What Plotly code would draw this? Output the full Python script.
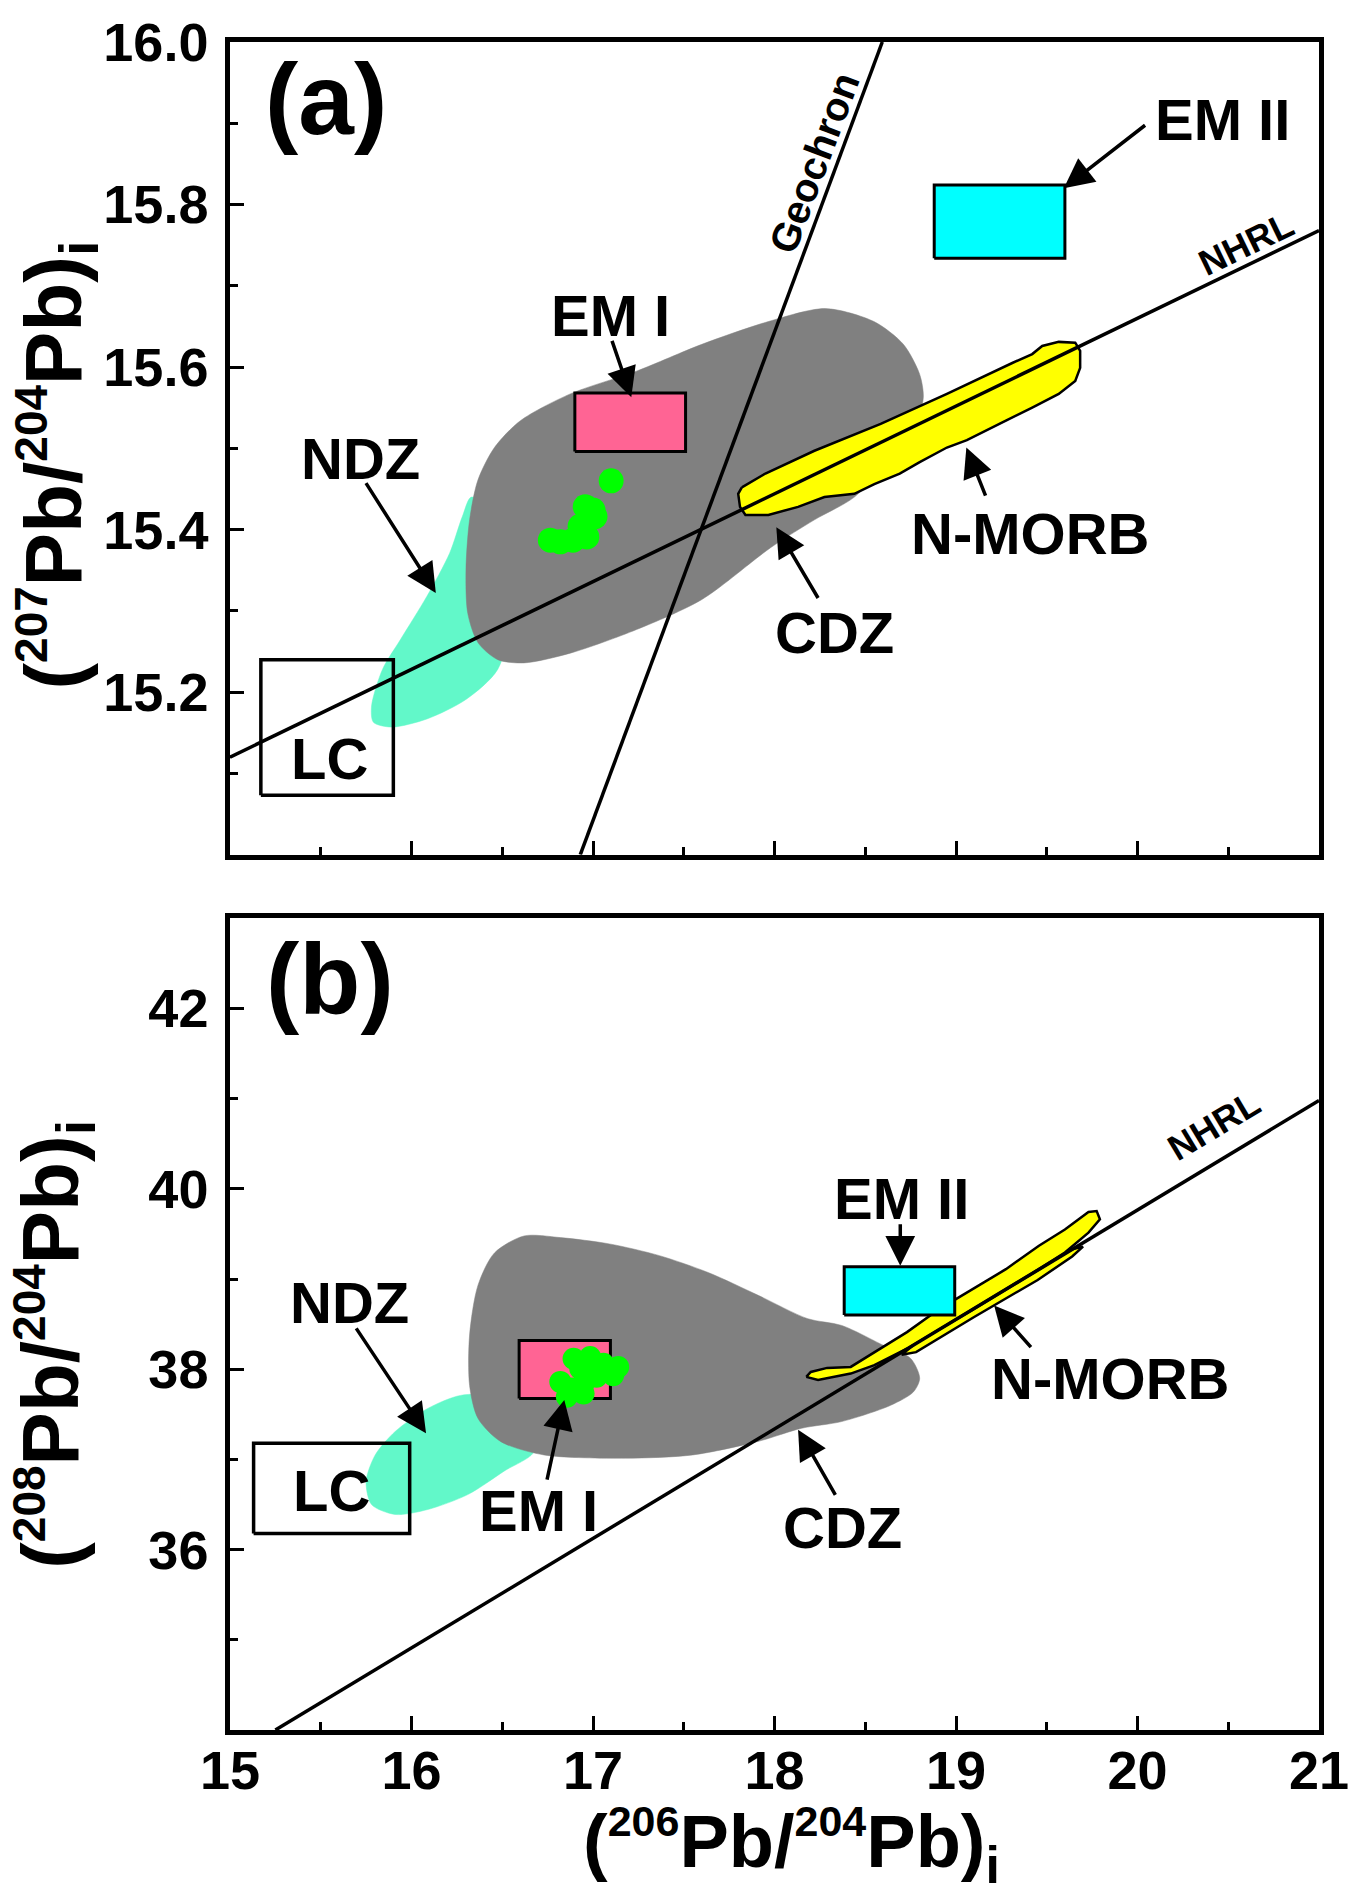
import plotly.graph_objects as go

# ---------------- axes ----------------
X_RANGE = [15, 21]
YA_RANGE = [15.0, 16.0]
YB_RANGE = [34, 43]
X_TICKS = [15, 16, 17, 18, 19, 20, 21]
X_MINOR = [15.5, 16.5, 17.5, 18.5, 19.5, 20.5]
YA_TICKS = [15.2, 15.4, 15.6, 15.8, 16.0]
YA_TICKTEXT = ["15.2", "15.4", "15.6", "15.8", "16.0"]
YA_MINOR = [15.1, 15.3, 15.5, 15.7, 15.9]
YB_TICKS = [36, 38, 40, 42]
YB_MINOR = [35, 37, 39, 41]

# ---------------- panel (a) ----------------
CDZ_A_X = [16.30, 16.32, 16.366, 16.457, 16.60, 16.875, 17.24, 17.60, 17.966, 18.28, 18.548, 18.71, 18.80,
           18.82, 18.78, 18.65, 18.44, 18.22, 17.98, 17.60, 17.24, 16.875, 16.62, 16.475, 16.366, 16.31]
CDZ_A_Y = [15.350, 15.412, 15.461, 15.501, 15.534, 15.567, 15.595, 15.628, 15.656, 15.672, 15.656, 15.628, 15.591,
           15.563, 15.530, 15.490, 15.440, 15.412, 15.378, 15.314, 15.277, 15.248, 15.236, 15.240, 15.261, 15.297]

NDZ_A_X = [16.33, 16.28, 16.21, 16.085, 15.94, 15.84, 15.78, 15.79, 15.89, 16.085, 16.30, 16.475, 16.55, 16.45]
NDZ_A_Y = [15.44, 15.416, 15.371, 15.318, 15.265, 15.228, 15.183, 15.163, 15.157, 15.167, 15.191, 15.228, 15.30, 15.42]

MORB_A_X = [17.82, 17.80, 17.81, 17.84, 17.966, 18.13, 18.275, 18.44, 18.55, 18.69, 18.80, 18.95, 19.06, 19.13,
            19.275, 19.42, 19.566, 19.657, 19.684, 19.684, 19.657, 19.566, 19.475, 19.42, 19.31, 18.95, 18.585,
            18.22, 17.95]
MORB_A_Y = [15.452, 15.444, 15.428, 15.418, 15.418, 15.428, 15.440, 15.444, 15.456, 15.469, 15.483, 15.501, 15.510,
            15.518, 15.534, 15.550, 15.567, 15.583, 15.599, 15.620, 15.630, 15.631, 15.626, 15.616, 15.605, 15.567,
            15.530, 15.497, 15.469]

LC_A = {"x": [15.17, 15.90], "y": [15.073, 15.240]}
EM1_A = {"x": [16.90, 17.51], "y": [15.496, 15.568]}
EM2_A = {"x": [18.88, 19.60], "y": [15.734, 15.824]}

SAMPLES_A_X = [17.10, 16.957, 17.011, 16.929, 16.82, 16.765, 16.89, 17.00, 16.966]
SAMPLES_A_Y = [15.460, 15.428, 15.416, 15.404, 15.385, 15.387, 15.387, 15.424, 15.391]

NHRL_A_X = [15.0, 21.0]
NHRL_A_Y = [15.12, 15.768]
GEOCHRON_X = [16.93, 18.594]
GEOCHRON_Y = [15.0, 16.0]

# ---------------- panel (b) ----------------
CDZ_B_X = [16.32, 16.32, 16.366, 16.457, 16.62, 16.82, 17.09, 17.366, 17.638, 17.91, 18.184, 18.37, 18.60, 18.75,
           18.80, 18.766, 18.64, 18.37, 18.15, 17.91, 17.55, 17.18, 16.73, 16.49, 16.366]
CDZ_B_Y = [37.82, 38.38, 38.93, 39.29, 39.478, 39.46, 39.39, 39.26, 39.07, 38.82, 38.56, 38.486, 38.265, 38.12,
           37.90, 37.75, 37.60, 37.42, 37.346, 37.20, 37.05, 37.014, 37.05, 37.20, 37.456]

NDZ_B_X = [16.27, 16.09, 15.91, 15.80, 15.75, 15.78, 15.91, 16.09, 16.31, 16.51, 16.675, 16.60, 16.45]
NDZ_B_Y = [37.71, 37.566, 37.31, 37.05, 36.757, 36.50, 36.39, 36.445, 36.61, 36.87, 37.09, 37.40, 37.70]

MORB_B_X = [18.175, 18.24, 18.42, 18.55, 18.73, 18.91, 19.093, 19.275, 19.457, 19.60, 19.73, 19.793, 19.775,
            19.73, 19.60, 19.457, 19.275, 19.093, 18.91, 18.73, 18.55, 18.457, 18.42, 18.29, 18.20]
MORB_B_Y = [37.916, 37.88, 37.952, 38.045, 38.228, 38.449, 38.67, 38.89, 39.11, 39.294, 39.515, 39.662, 39.754,
            39.743, 39.55, 39.37, 39.11, 38.89, 38.67, 38.412, 38.19, 38.08, 38.026, 38.015, 37.97]
MORB_B2_X = [18.70, 18.78, 19.10, 19.45, 19.64, 19.70, 19.64, 19.10, 18.78]
MORB_B2_Y = [38.16, 38.19, 38.58, 38.99, 39.25, 39.36, 39.33, 38.67, 38.29]

LC_B = {"x": [15.13, 15.99], "y": [36.18, 37.18]}
EM1_B = {"x": [16.593, 17.096], "y": [37.676, 38.32]}
EM2_B = {"x": [18.384, 18.993], "y": [38.603, 39.136]}

SAMPLES_B_X = [16.893, 16.984, 17.057, 17.139, 16.82, 16.884, 16.948, 17.02, 16.856, 16.948, 17.111, 16.93]
SAMPLES_B_Y = [38.117, 38.136, 38.062, 38.026, 37.86, 37.787, 37.842, 37.916, 37.695, 37.732, 37.934, 38.007]

NHRL_B_X = [15.25, 21.0]
NHRL_B_Y = [34.0, 40.98]

# labels: (text, x, y)
LABELS_A = [("EM I", 17.097, 15.664), ("EM II", 20.47, 15.905), ("NDZ", 15.72, 15.487),
            ("LC", 15.55, 15.118), ("N-MORB", 19.41, 15.395), ("CDZ", 18.33, 15.273)]
LABELS_B = [("NDZ", 15.66, 38.74), ("LC", 15.56, 36.66), ("EM I", 16.70, 36.43),
            ("EM II", 18.70, 39.89), ("CDZ", 18.376, 36.25), ("N-MORB", 19.85, 37.90)]
# arrows: head x, head y, tail x, tail y
ARROWS_A = [(17.211, 15.563, 17.102, 15.634), (19.594, 15.820, 20.05, 15.899),
            (16.134, 15.322, 15.744, 15.459), (19.057, 15.501, 19.166, 15.440),
            (18.01, 15.403, 18.245, 15.314)]
ARROWS_B = [(16.08, 37.29, 15.69, 38.47), (16.842, 37.66, 16.745, 36.76),
            (18.693, 39.148, 18.693, 39.625), (19.21, 38.706, 19.42, 38.228),
            (18.13, 37.33, 18.34, 36.59)]

FONT = "Liberation Sans, Arial, sans-serif"
GRAY = "#808080"
AQUA = "#62F8C9"
PINK = "#FF6494"
CYAN = "#00FFFF"
YELLOW = "#FFFF00"
GREEN = "#00FF00"

fig = go.Figure()


def poly(xs, ys, xa, ya, fill, line_w=0, shape="spline"):
    fig.add_trace(go.Scatter(x=xs + xs[:1], y=ys + ys[:1], xaxis=xa, yaxis=ya, mode="lines",
                             fill="toself", fillcolor=fill,
                             line=dict(color="black" if line_w else fill, width=line_w if line_w else 0.5,
                                       shape=shape, smoothing=0.8 if shape == "spline" else None),
                             hoverinfo="skip", showlegend=False))


def rect(box, xa, ya, fill, lw=3.5):
    x0, x1 = box["x"]
    y0, y1 = box["y"]
    fig.add_trace(go.Scatter(x=[x0, x1, x1, x0, x0], y=[y0, y0, y1, y1, y0], xaxis=xa, yaxis=ya,
                             mode="lines", fill="toself" if fill else None, fillcolor=fill,
                             line=dict(color="black", width=lw), hoverinfo="skip", showlegend=False))


def line(xs, ys, xa, ya, w=3.5):
    fig.add_trace(go.Scatter(x=xs, y=ys, xaxis=xa, yaxis=ya, mode="lines",
                             line=dict(color="black", width=w), hoverinfo="skip", showlegend=False))


# panel a
poly(NDZ_A_X, NDZ_A_Y, "x", "y", AQUA)
poly(CDZ_A_X, CDZ_A_Y, "x", "y", GRAY)
poly(MORB_A_X, MORB_A_Y, "x", "y", YELLOW, line_w=2.5, shape="linear")
rect(LC_A, "x", "y", None)
rect(EM1_A, "x", "y", PINK, lw=3)
rect(EM2_A, "x", "y", CYAN, lw=3)
line(NHRL_A_X, NHRL_A_Y, "x", "y")
line(GEOCHRON_X, GEOCHRON_Y, "x", "y")
fig.add_trace(go.Scatter(x=SAMPLES_A_X, y=SAMPLES_A_Y, xaxis="x", yaxis="y", mode="markers",
                         marker=dict(color=GREEN, size=25, line=dict(width=0)), hoverinfo="skip",
                         showlegend=False))

# panel b
poly(NDZ_B_X, NDZ_B_Y, "x2", "y2", AQUA)
poly(CDZ_B_X, CDZ_B_Y, "x2", "y2", GRAY)
poly(MORB_B2_X, MORB_B2_Y, "x2", "y2", YELLOW, line_w=2.5, shape="linear")
poly(MORB_B_X, MORB_B_Y, "x2", "y2", YELLOW, line_w=2.5, shape="linear")
rect(LC_B, "x2", "y2", None)
rect(EM1_B, "x2", "y2", PINK, lw=3)
rect(EM2_B, "x2", "y2", CYAN, lw=3)
line(NHRL_B_X, NHRL_B_Y, "x2", "y2")
fig.add_trace(go.Scatter(x=SAMPLES_B_X, y=SAMPLES_B_Y, xaxis="x2", yaxis="y2", mode="markers",
                         marker=dict(color=GREEN, size=22, line=dict(width=0)), hoverinfo="skip",
                         showlegend=False))

ann = []
for (t, x, y) in LABELS_A:
    ann.append(dict(text="<b>%s</b>" % t, x=x, y=y, xref="x", yref="y", showarrow=False,
                    xanchor="center", yanchor="middle",
                    font=dict(size=58, family=FONT, color="black")))
for (t, x, y) in LABELS_B:
    ann.append(dict(text="<b>%s</b>" % t, x=x, y=y, xref="x2", yref="y2", showarrow=False,
                    xanchor="center", yanchor="middle",
                    font=dict(size=58, family=FONT, color="black")))
for (hx, hy, tx, ty) in ARROWS_A:
    ann.append(dict(text="", x=hx, y=hy, ax=tx, ay=ty, xref="x", yref="y", axref="x", ayref="y",
                    showarrow=True, arrowhead=2, arrowsize=1.7, arrowwidth=3.5, arrowcolor="black"))
for (hx, hy, tx, ty) in ARROWS_B:
    ann.append(dict(text="", x=hx, y=hy, ax=tx, ay=ty, xref="x2", yref="y2", axref="x2", ayref="y2",
                    showarrow=True, arrowhead=2, arrowsize=1.7, arrowwidth=3.5, arrowcolor="black"))

# line names
ann.append(dict(text="<b>Geochron</b>", x=18.218, y=15.851, xref="x", yref="y", showarrow=False,
                xanchor="center", yanchor="middle",
                textangle=-69.5, font=dict(size=40, family=FONT, color="black")))
ann.append(dict(text="<b>NHRL</b>", x=20.60, y=15.752, xref="x", yref="y", showarrow=False,
                xanchor="center", yanchor="middle",
                textangle=-25.7, font=dict(size=36, family=FONT, color="black")))
ann.append(dict(text="<b>NHRL</b>", x=20.42, y=40.70, xref="x2", yref="y2", showarrow=False,
                xanchor="center", yanchor="middle",
                textangle=-31, font=dict(size=36, family=FONT, color="black")))
# panel letters
ann.append(dict(text="<b>(a)</b>", x=15.53, y=15.93, xref="x", yref="y", showarrow=False,
                xanchor="center", yanchor="middle",
                font=dict(size=100, family=FONT, color="black")))
ann.append(dict(text="<b>(b)</b>", x=15.55, y=42.33, xref="x2", yref="y2", showarrow=False,
                xanchor="center", yanchor="middle",
                font=dict(size=100, family=FONT, color="black")))


def pb_title(num, sup_px):
    s = "<span style='font-size:%dpx'>%%s</span>" % sup_px
    return ("<b>(<sup>" + s % num + "</sup>Pb/<sup>" + s % "204" + "</sup>Pb)<sub>i</sub></b>")


# axis titles
ann.append(dict(text=pb_title("207", 46), x=-0.159, y=0.7496,
                xref="paper", yref="paper", showarrow=False, textangle=-90,
                xanchor="center", yanchor="middle",
                font=dict(size=80, family=FONT, color="black")))
ann.append(dict(text=pb_title("208", 46), x=-0.161, y=0.2286,
                xref="paper", yref="paper", showarrow=False, textangle=-90,
                xanchor="center", yanchor="middle",
                font=dict(size=80, family=FONT, color="black")))
ann.append(dict(text=pb_title("206", 43), x=0.516, y=-0.0685,
                xref="paper", yref="paper", showarrow=False, xanchor="center", yanchor="middle",
                borderpad=0,
                font=dict(size=74, family=FONT, color="black")))

common = dict(showline=True, linewidth=4.5, linecolor="black", mirror=True, ticks="inside", ticklen=14,
              tickwidth=3, tickcolor="black", showgrid=False, zeroline=False,
              tickfont=dict(size=54, family=FONT, color="black", weight="bold"))

fig.update_layout(
    width=1361, height=1896,
    margin=dict(l=230, r=31, t=33, b=166),
    paper_bgcolor="white", plot_bgcolor="white",
    showlegend=False, hovermode=False,
    font=dict(family=FONT, color="black"),
    xaxis=dict(domain=[0, 1], anchor="y", range=X_RANGE, tickmode="array", tickvals=X_TICKS,
               showticklabels=False,
               minor=dict(ticks="inside", ticklen=8, tickwidth=3, tickcolor="black", tickvals=X_MINOR), **common),
    yaxis=dict(domain=[0.51856, 1], anchor="x", range=YA_RANGE, tickmode="array", tickvals=YA_TICKS,
               ticktext=YA_TICKTEXT, ticklabelstandoff=6,
               minor=dict(ticks="inside", ticklen=8, tickwidth=3, tickcolor="black", tickvals=YA_MINOR), **common),
    xaxis2=dict(domain=[0, 1], anchor="y2", range=X_RANGE, tickmode="array", tickvals=X_TICKS,
                ticklabelstandoff=-11,
                minor=dict(ticks="inside", ticklen=8, tickwidth=3, tickcolor="black", tickvals=X_MINOR), **common),
    yaxis2=dict(domain=[0, 0.48085], anchor="x2", range=YB_RANGE, tickmode="array", tickvals=YB_TICKS,
                ticklabelstandoff=6,
                minor=dict(ticks="inside", ticklen=8, tickwidth=3, tickcolor="black", tickvals=YB_MINOR), **common),
    annotations=ann,
)

fig.write_html("out.html")
